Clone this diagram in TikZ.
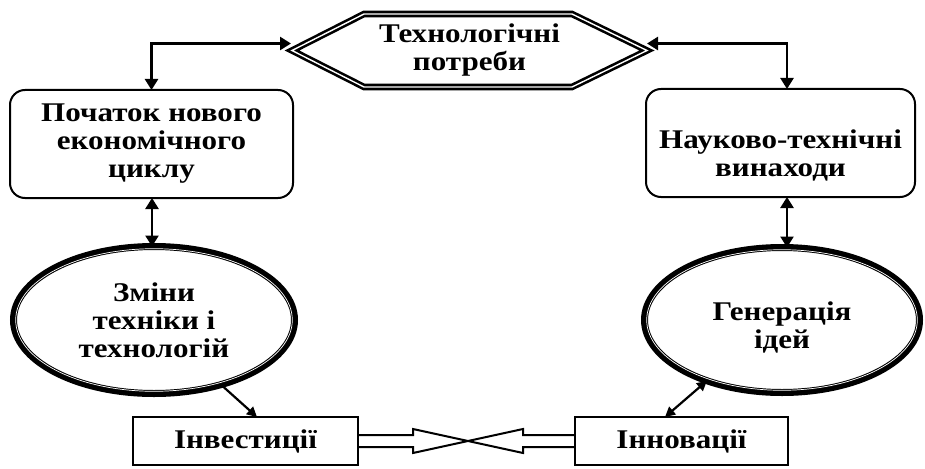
\documentclass[tikz,border=0pt]{standalone}
\usepackage{fontspec}
\setmainfont[FakeStretch=1.15]{Liberation Serif}
\usetikzlibrary{arrows.meta,calc,shapes.geometric}
\begin{document}
\begin{tikzpicture}[x=1pt,y=-1pt,
  every node/.style={outer sep=0pt, inner sep=0pt},
  txt/.style={font=\bfseries\fontsize{27}{28}\selectfont, align=center},
  rbox/.style={draw, line width=2pt, rounded corners=15pt},
  bbox/.style={draw, line width=2.5pt, txt},
  oval/.style={draw, ellipse, line width=7pt, txt},
  hexline/.style={line width=2.6pt, double distance=1.4pt, line join=miter},
  conn/.style={line width=2.5pt, {Triangle[length=11pt,width=13pt]}-{Triangle[length=11pt,width=13pt]}},
  dconn/.style={line width=2.2pt, {Triangle[length=10pt,width=10pt]}-{Triangle[length=10pt,width=10pt]}},
  sconn/.style={line width=2.2pt, -{Triangle[length=10pt,width=10pt]}},
  band/.style={line width=2pt, line join=miter}
]
\useasboundingbox (0,0) rectangle (925,468);

% hexagon
\node[txt, minimum width=355pt, minimum height=73pt] (tech) at (469.5,50.5) {Технологічні\\потреби};
\draw[hexline] (tech.west) -- ($(tech.north west)+(72,0)$) -- ($(tech.north east)+(-75,0)$)
  -- (tech.east) -- ($(tech.south east)+(-75,0)$) -- ($(tech.south west)+(72,0)$) -- cycle;

% rounded boxes
\node[rbox, txt, minimum width=283pt, minimum height=108pt] (lbox) at (151.5,144) {Початок нового\\економічного\\циклу};
\node[rbox, minimum width=269pt, minimum height=108pt] (rbox) at (780.5,143) {};
\node[txt] (rboxt) at (780.5,155) {Науково-технічні\\винаходи};

% ellipses
\node[oval, minimum width=281pt, minimum height=147pt] (lell) at (154,320) {Зміни\\техніки і\\технологій};
\draw[white, line width=0.7pt] (lell.center) ellipse [x radius=138.3, y radius=71.3];
\node[oval, minimum width=275pt, minimum height=145pt] (rell) at (782,320) {};
\draw[white, line width=0.7pt] (rell.center) ellipse [x radius=135.3, y radius=70.3];
\node[txt] (rellt) at (782,327) {Генерація\\ідей};

% bottom boxes
\node[bbox, minimum width=225pt, minimum height=48pt] (inv) at (245.5,441) {Інвестиції};
\node[bbox, minimum width=213pt, minimum height=48pt] (inn) at (681.5,441) {Інновації};

% top connectors
\coordinate (ltip) at ($(tech.west)+(-1,-7)$);
\coordinate (rtip) at ($(tech.east)+(0,-7)$);
\coordinate (rtop) at ($(rbox.north)+(6.5,0)$);
\draw[conn] (lbox.north) |- (ltip);
\draw[conn] (rtop) |- (rtip);

% vertical connectors
\coordinate (lv) at ($(lbox.south)+(0.5,0)$);
\coordinate (rv) at ($(rbox.south)+(6.5,0)$);
\draw[conn] (lv) -- (lv |- lell.north);
\draw[conn] (rv) -- (rv |- rell.north);

% diagonal connectors
\coordinate (invtop) at ($(inv.north)+(11.5,0)$);
\coordinate (inntop) at ($(inn.north)+(-16.5,0)$);
\draw[sconn] (lell.-44) -- (invtop);
\draw[dconn] (inntop) -- (rell.-141);

% crossing band
\draw[band] ($(inv.east)+(0,-6)$) -- ++(55,0) -- ++(0,-6) -- ++(110,24) -- ++(0,-6) -- ($(inn.west)+(0,6)$);
\draw[band] ($(inv.east)+(0,6)$) -- ++(55,0) -- ++(0,6) -- ++(110,-24) -- ++(0,6) -- ($(inn.west)+(0,-6)$);
\end{tikzpicture}
\end{document}
